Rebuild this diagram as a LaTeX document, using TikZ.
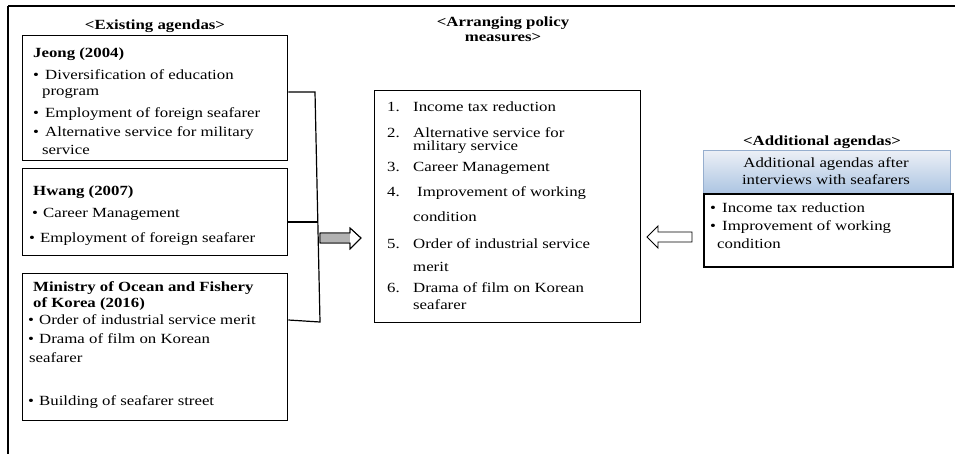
\documentclass[tikz,border=0pt]{standalone}
\usepackage{fontspec}
\setmainfont[FakeStretch=1.2]{Liberation Serif}
\usetikzlibrary{calc}
\definecolor{hdrtop}{RGB}{236,240,246}
\definecolor{hdrbot}{RGB}{172,196,226}
\definecolor{hdredge}{RGB}{150,174,206}
\begin{document}
\begin{tikzpicture}[x=1pt,y=-1pt,
  txt/.style={anchor=base west, inner sep=0pt, font=\fontsize{14}{16}\selectfont},
  ttl/.style={anchor=base, inner sep=0pt, font=\fontsize{14}{16}\selectfont\bfseries},
  hdtxt/.style={anchor=base west, inner sep=0pt, font=\fontsize{14}{16}\selectfont\bfseries},
  boxnode/.style={draw, line width=1.3pt, inner sep=0pt, anchor=north west},
  conn/.style={line width=1.2pt},
  arrline/.style={line width=0.9pt, line join=miter},
]
\useasboundingbox (0,0) rectangle (955,454);
% outer frame (top and left edges)
\coordinate (ftl) at (8,6);
\coordinate (ftr) at (955,6);
\coordinate (fbl) at (8,454);
\draw[line width=2.5pt] (ftr) -- (ftl);
\draw[line width=1.6pt] (ftl) -- (fbl);

% titles
\node[ttl] (t1) at (155,30) {<Existing agendas>};
\node[ttl] (t2) at (503,27) {<Arranging policy};
\node[ttl] (t3) at (503,42) {measures>};
\node[ttl] (t4) at (822,146) {<Additional agendas>};

% left boxes
\node[boxnode, minimum width=265, minimum height=125] (jeong) at (22,35) {};
\node[boxnode, minimum width=265, minimum height=87] (hwang) at (22,168) {};
\node[boxnode, minimum width=265, minimum height=147] (mini) at (22,273) {};

\node[hdtxt] (j0) at (33,58) {Jeong (2004)};
\node[txt] (j1b) at (33,80) {•}; \node[txt] (j1) at (45,80) {Diversification of education};
\node[txt] (j2) at (42,96) {program};
\node[txt] (j3b) at (33,118) {•}; \node[txt] (j3) at (45,118) {Employment of foreign seafarer};
\node[txt] (j4b) at (33,137) {•}; \node[txt] (j4) at (45,137) {Alternative service for military};
\node[txt] (j5) at (42,155) {service};

\node[hdtxt] (h0) at (33,196) {Hwang (2007)};
\node[txt] (h1b) at (32,218) {•}; \node[txt] (h1) at (43,218) {Career Management};
\node[txt] (h2b) at (29,243) {•}; \node[txt] (h2) at (40,243) {Employment of foreign seafarer};

\node[hdtxt] (m0) at (33,291) {Ministry of Ocean and Fishery};
\node[hdtxt] (m0b) at (33,307) {of Korea (2016)};
\node[txt] (m1b) at (28,324) {•}; \node[txt] (m1) at (39,324) {Order of industrial service merit};
\node[txt] (m2b) at (28,343) {•}; \node[txt] (m2) at (39,343) {Drama of film on Korean};
\node[txt] (m3) at (29,362) {seafarer};
\node[txt] (m4b) at (28,405) {•}; \node[txt] (m4) at (39,405) {Building of seafarer street};

% bracket
\coordinate (bj) at (315,92);
\coordinate (bh) at (317,222);
\coordinate (bm) at (320,322);
\draw[conn] ($(jeong.north east)+(0,57)$) -- (bj) -- (bm) -- ($(mini.north east)+(0,47)$);
\draw[conn] ($(hwang.north east)+(0,54)$) -- (bh);

% centre box
\node[boxnode, minimum width=266, minimum height=232] (cen) at (374,90) {};
\node[txt] (c1n) at (387,112) {1.}; \node[txt] (c1) at (413,112) {Income tax reduction};
\node[txt] (c2n) at (387,138) {2.}; \node[txt] (c2) at (413,138) {Alternative service for};
\node[txt] (c2b) at (413,151) {military service};
\node[txt] (c3n) at (387,172) {3.}; \node[txt] (c3) at (413,172) {Career Management};
\node[txt] (c4n) at (387,197) {4.}; \node[txt] (c4) at (417,197) {Improvement of working};
\node[txt] (c4b) at (413,222) {condition};
\node[txt] (c5n) at (387,248) {5.}; \node[txt] (c5) at (413,248) {Order of industrial service};
\node[txt] (c5b) at (413,272) {merit};
\node[txt] (c6n) at (387,292) {6.}; \node[txt] (c6) at (413,292) {Drama of film on Korean};
\node[txt] (c6b) at (413,309) {seafarer};

% right side
\node[draw=hdredge, line width=0.8pt, top color=hdrtop, bottom color=hdrbot,
      anchor=north west, minimum width=247, minimum height=43, inner sep=0pt] (hdr) at (703,150) {};
\node[anchor=base, inner sep=0pt, font=\fontsize{14}{16}\selectfont] (hd1) at (826,168) {Additional agendas after};
\node[anchor=base, inner sep=0pt, font=\fontsize{14}{16}\selectfont] (hd2) at (826,185) {interviews with seafarers};
\node[boxnode, line width=1.8pt, minimum width=249, minimum height=73] (rbox) at (703,193) {};
\node[txt] (r1b) at (710,213) {•}; \node[txt] (r1) at (722,213) {Income tax reduction};
\node[txt] (r2b) at (710,231) {•}; \node[txt] (r2) at (722,231) {Improvement of working};
\node[txt] (r3) at (717,248) {condition};

% hollow block arrows
\coordinate (la) at (320,238);
\coordinate (ra) at (692,237);
\filldraw[arrline, fill=white] (la) ++(0,-5) -- ++(30,0) -- ++(0,-5) -- ++(11,10) -- ++(-11,11) -- ++(0,-6) -- ++(-30,0) -- cycle;
\fill[gray!60] ($(la)+(1,-4)$) rectangle ($(la)+(29.5,4)$);
\draw[arrline] (la) ++(0,-5) -- ++(30,0) -- ++(0,-5) -- ++(11,10) -- ++(-11,11) -- ++(0,-6) -- ++(-30,0) -- cycle;
\filldraw[arrline, fill=white] (ra) ++(0,-5) -- ++(-34,0) -- ++(0,-6) -- ++(-11,11) -- ++(11,11) -- ++(0,-6) -- ++(34,0) -- cycle;
\end{tikzpicture}
\end{document}
